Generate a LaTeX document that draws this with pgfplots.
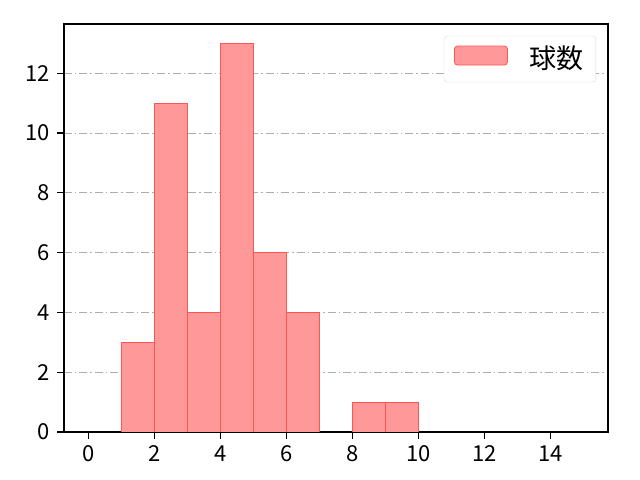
\documentclass[border=0pt]{standalone}
\usepackage{pgfplots}
\pgfplotsset{compat=1.18}
\usepackage{fontspec}
\setmainfont{Noto Sans CJK JP}
\definecolor{barfill}{RGB}{255,153,153}
\definecolor{baredge}{RGB}{255,85,85}
\begin{document}
\fontsize{22bp}{26bp}\selectfont
\begin{tikzpicture}
\useasboundingbox (-64bp,-48bp) rectangle (576bp,432bp);
\begin{axis}[
  at={(0,0)}, anchor=south west,
  scale only axis, width=544bp, height=408bp,
  xmin=-0.75, xmax=15.75, ymin=0, ymax=13.65,
  xtick={0,2,4,6,8,10,12,14},
  ytick={0,2,4,6,8,10,12},
  /pgf/number format/assume math mode=true,
  ticklabel style={font=\fontsize{22bp}{26bp}\selectfont},
  xticklabel style={yshift=1bp},
  tick align=outside,
  major tick length=7bp,
  tick style={black, line width=1.2bp},
  xtick pos=bottom, ytick pos=left,
  axis line style={line width=1.2bp},
  ymajorgrids,
  grid style={black!32, line width=0.9bp, dash pattern=on 8bp off 3bp on 1.5bp off 3bp},
  legend style={at={(0.978,0.971)}, anchor=north east, draw=black!15, rounded corners=3bp,
    font=\fontsize{27bp}{30bp}\selectfont, inner xsep=10bp, inner ysep=8bp},
  legend image code/.code={\draw[fill=barfill, draw=baredge, line width=0.8bp] (0bp,-6bp) rectangle (53bp,13bp);},
  legend cell align=left,
]
\addplot[ybar, bar width=1, fill=barfill, draw=baredge, line width=0.9bp]
  coordinates {(1.5,3) (2.5,11) (3.5,4) (4.5,13) (5.5,6) (6.5,4) (8.5,1) (9.5,1)};
\addlegendentry{\hspace{20bp}球数}
\end{axis}
\end{tikzpicture}
\end{document}
